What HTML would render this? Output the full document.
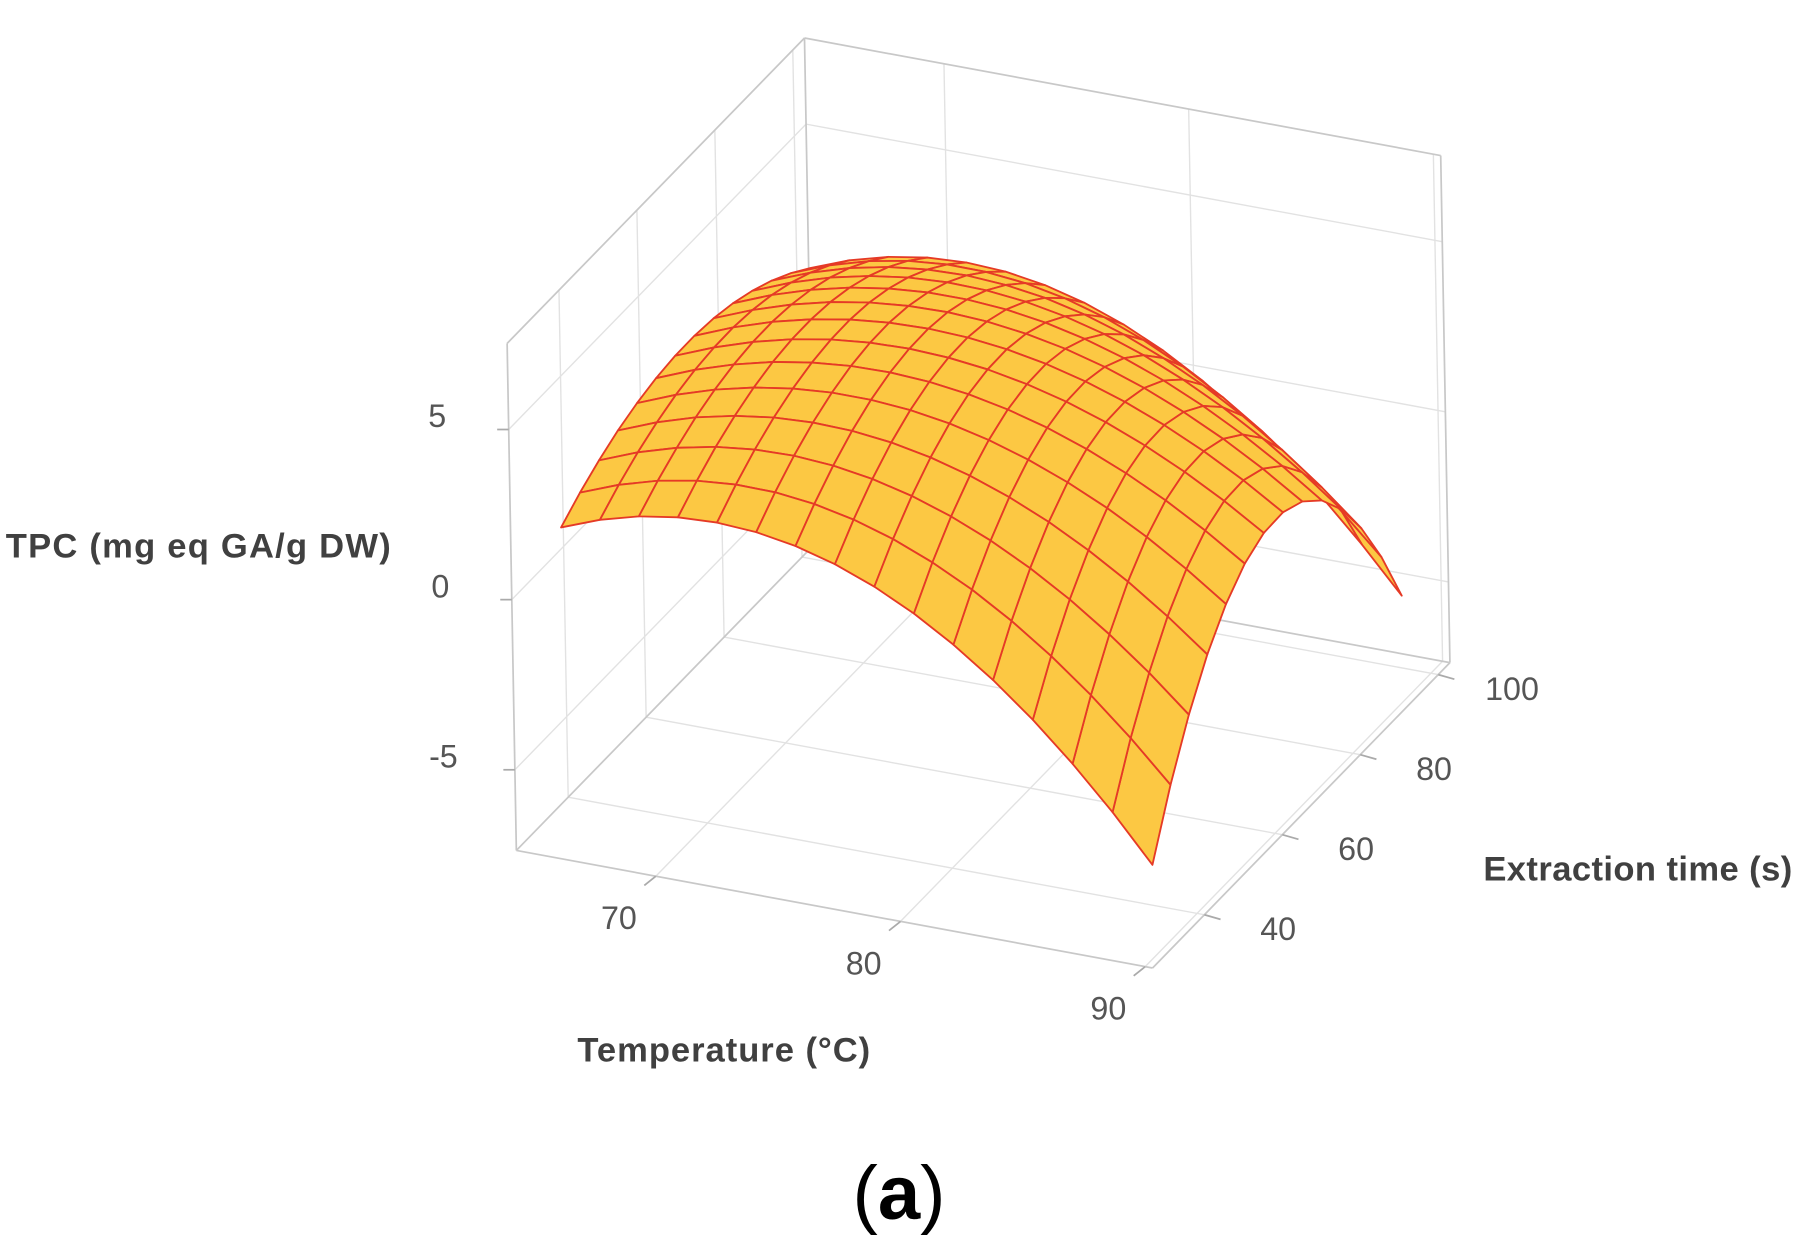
<!DOCTYPE html>
<html><head><meta charset="utf-8"><style>
html,body{margin:0;padding:0;background:#fff;}
svg{display:block;}
text{font-family:"Liberation Sans",sans-serif;}
</style></head><body>
<svg id="chart" width="1798" height="1248" viewBox="0 0 1560 1083" preserveAspectRatio="none" xmlns="http://www.w3.org/2000/svg">
<g id="walls"></g>
<g id="axes"></g>
<g id="surface"></g>
<text x="172" y="484" font-size="30" font-weight="bold" fill="#404040" text-anchor="middle" textLength="334">TPC (mg eq GA/g DW)</text>
<text x="628" y="921" font-size="30" font-weight="bold" fill="#404040" text-anchor="middle" textLength="254">Temperature (°C)</text>
<text x="1421" y="764" font-size="30" font-weight="bold" fill="#404040" text-anchor="middle" textLength="268">Extraction time (s)</text>
<text x="780" y="1058" font-size="66" font-family="Liberation Serif, serif" fill="#000" text-anchor="middle">(<tspan font-weight="bold">a</tspan>)</text>
</svg>
<script>
// ---- data ----
const tempRange = [66, 90];
const timeRange = [29, 93];
const peakTPC = [5.15];
const peakAt = [75.5, 61.5];
const tempCurv = [0.0165];
const timeCurv = [0.0015, 0.0000078];
const zTicks = [-5, 0, 5];
const tempTicks = [70, 80, 90];
const timeTicks = [40, 60, 80, 100];
const gridCount = [15, 13];
// ---- axes domains ----
const tDom = [64.3, 90.3], sDom = [26.7, 103], zDom = [-7.37, 7.53];
const O = [448, 738], EX = [552, 102], EY = [258, -265], EZ = [-8, -440];
function nu(v){return (v - tDom[0]) / (tDom[1] - tDom[0]);}
function nv(v){return (v - sDom[0]) / (sDom[1] - sDom[0]);}
function nw(v){return (v - zDom[0]) / (zDom[1] - zDom[0]);}
function P(u,v,w){return [O[0]+u*EX[0]+v*EY[0]+w*EZ[0], O[1]+u*EX[1]+v*EY[1]+w*EZ[1]];}
function proj(T,t,z){return P(nu(T), nv(t), nw(z));}
function model(T,t){
  const b = timeCurv[0] + timeCurv[1]*(T - tempRange[0])**2;
  return peakTPC[0] - tempCurv[0]*(T-peakAt[0])**2 - b*(t-peakAt[1])**2;
}
const NS = "http://www.w3.org/2000/svg";
function line(g,a,b,stroke,w){const l=document.createElementNS(NS,'line');l.setAttribute('x1',a[0]);l.setAttribute('y1',a[1]);l.setAttribute('x2',b[0]);l.setAttribute('y2',b[1]);l.setAttribute('stroke',stroke);l.setAttribute('stroke-width',w);g.appendChild(l);return l;}
function txt(g,x,y,s,anchor){const t=document.createElementNS(NS,'text');t.setAttribute('x',x);t.setAttribute('y',y);t.setAttribute('font-size','28');t.setAttribute('fill','#555');t.setAttribute('text-anchor',anchor||'middle');t.textContent=s;g.appendChild(t);return t;}
const walls=document.getElementById('walls'), axes=document.getElementById('axes');
const GC='#e2e2e2', EC='#c8c8c8';
zTicks.forEach(z=>{const w=nw(z);
  let l=line(walls,P(0,0,w),P(0,1,w),GC,1.2);
  l=line(walls,P(0,1,w),P(1,1,w),GC,1.2);});
tempTicks.forEach(T=>{const u=nu(T);
  let l=line(walls,P(u,0,0),P(u,1,0),GC,1.2);
  l=line(walls,P(u,1,0),P(u,1,1),GC,1.2);});
timeTicks.forEach(t=>{const v=nv(t);
  let l=line(walls,P(0,v,0),P(1,v,0),GC,1.2);
  l=line(walls,P(0,v,0),P(0,v,1),GC,1.2);});
[[[0,0,0],[0,0,1]],[[0,0,1],[0,1,1]],[[0,1,1],[1,1,1]],[[1,1,1],[1,1,0]],[[0,1,0],[0,1,1]],[[0,0,0],[1,0,0]],[[1,0,0],[1,1,0]],[[0,0,0],[0,1,0]],[[0,1,0],[1,1,0]]].forEach(e=>{
  const l=line(walls,P(...e[0]),P(...e[1]),EC,1.5);
  
  });
zTicks.forEach(z=>{const p=P(0,0,nw(z));const l=line(axes,p,[p[0]-10,p[1]],'#aaa',1.5);
  
  const t=txt(axes,p[0]-62,p[1]-2,String(z),'middle');
  });
tempTicks.forEach(T=>{const p=P(nu(T),0,0);const l=line(axes,p,[p[0]-10,p[1]+8],'#aaa',1.5);
  
  const t=txt(axes,p[0]-32,p[1]+46,String(T),'middle');
  });
timeTicks.forEach(tt=>{const p=P(1,nv(tt),0);const l=line(axes,p,[p[0]+14,p[1]+4],'#aaa',1.5);
  
  const t=txt(axes,p[0]+64,p[1]+22,String(tt),'middle');
  });
const surf=document.getElementById('surface');
const nT=gridCount[0], nS=gridCount[1];
const quads=[];
for(let i=0;i<nT;i++)for(let j=0;j<nS;j++){
  const T0=tempRange[0]+(tempRange[1]-tempRange[0])*i/nT, T1=tempRange[0]+(tempRange[1]-tempRange[0])*(i+1)/nT;
  const s0=timeRange[0]+(timeRange[1]-timeRange[0])*j/nS, s1=timeRange[0]+(timeRange[1]-timeRange[0])*(j+1)/nS;
  const c=[[T0,s0],[T1,s0],[T1,s1],[T0,s1]];
  const pts=c.map(q=>proj(q[0],q[1],model(q[0],q[1])));
  const Tm=(T0+T1)/2, sm=(s0+s1)/2;
  const depth=0.67*nu(Tm)-1.40*nv(sm)+nw(model(Tm,sm));
  quads.push({pts,depth});
}
quads.sort((a,b)=>a.depth-b.depth);
quads.forEach(q=>{const p=document.createElementNS(NS,'polygon');
  p.setAttribute('points',q.pts.map(x=>x[0].toFixed(1)+','+x[1].toFixed(1)).join(' '));
  p.setAttribute('fill','#fcc843');p.setAttribute('stroke','#e53a26');p.setAttribute('stroke-width','1.6');p.setAttribute('stroke-linejoin','round');
  
  
  surf.appendChild(p);});
</script>
</body></html>
